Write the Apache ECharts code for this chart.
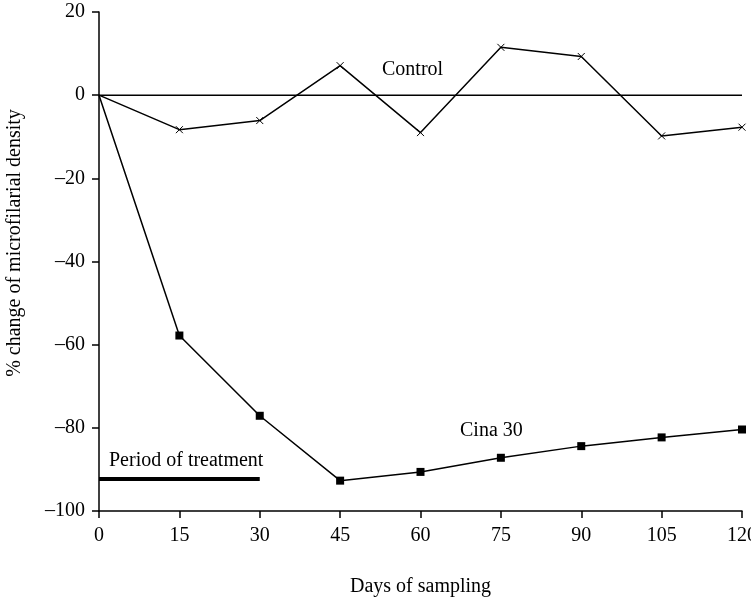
<!DOCTYPE html>
<html><head><meta charset="utf-8">
<script src="https://cdn.jsdelivr.net/npm/echarts@6/dist/echarts.min.js"></script>
<style>html,body{margin:0;padding:0;background:#fff}#c{width:751px;height:598px}</style>
</head><body><div id="c"></div>
<script>
const days = [0, 15, 30, 45, 60, 75, 90, 105, 120];
const control = [0, -8.3, -6.1, 7.1, -9.0, 11.5, 9.3, -9.8, -7.7];
const cina30 = [0, -57.8, -77.1, -92.7, -90.6, -87.2, -84.4, -82.3, -80.4];
const zeroLine = [[0, 0], [120, 0]];
const treatmentBar = [[0, -92.3], [30, -92.3]];
const F = 'Liberation Serif';
const pts = (vals) => days.map((d, i) => i === 0 ? {value: [d, vals[i]], symbol: 'none'} : [d, vals[i]]);
const chart = echarts.init(document.getElementById('c'));
chart.setOption({
  animation: false,
  grid: {left: 99, right: 9, top: 12, bottom: 87, outerBoundsMode: 'none', containLabel: false},
  xAxis: {
    type: 'value', min: 0, max: 120, interval: 15,
    name: 'Days of sampling', nameLocation: 'middle', nameGap: 66,
    nameTextStyle: {fontFamily: F, fontSize: 20, color: '#000'},
    axisLine: {onZero: false, lineStyle: {color: '#000', width: 1.5}},
    axisTick: {length: 7, lineStyle: {color: '#000', width: 1.5}},
    axisLabel: {fontFamily: F, fontSize: 20, color: '#000', margin: 15},
    splitLine: {show: false}
  },
  yAxis: {
    type: 'value', min: -100, max: 20, interval: 20,
    axisLine: {onZero: false, lineStyle: {color: '#000', width: 1.5}},
    axisTick: {length: 7, lineStyle: {color: '#000', width: 1.5}},
    axisLabel: {fontFamily: F, fontSize: 20, color: '#000', margin: 14,
      formatter: v => v < 0 ? '\u2013' + Math.abs(v) : String(v)},
    splitLine: {show: false}
  },
  series: [
    {type: 'line', data: zeroLine, symbol: 'none', lineStyle: {color: '#000', width: 1.5}, silent: true},
    {type: 'line', data: pts(control),
     symbol: 'path://M0,0L10,10M10,0L0,10', symbolSize: 7, showSymbol: true,
     itemStyle: {color: 'none', borderColor: '#000', borderWidth: 1},
     lineStyle: {color: '#000', width: 1.5}},
    {type: 'line', data: pts(cina30),
     symbol: 'rect', symbolSize: 8, itemStyle: {color: '#000'},
     lineStyle: {color: '#000', width: 1.5}},
    {type: 'line', data: treatmentBar, symbol: 'none', lineStyle: {color: '#000', width: 4}, silent: true}
  ],
  graphic: [
    {type: 'text', x: 15, y: 243, rotation: Math.PI / 2,
     style: {text: '% change of microfilarial density', font: '20px "Liberation Serif"', fill: '#000', align: 'center', verticalAlign: 'middle'}},
    {type: 'text', x: 382, y: 70, style: {text: 'Control', font: '20px "Liberation Serif"', fill: '#000', verticalAlign: 'middle'}},
    {type: 'text', x: 460, y: 431, style: {text: 'Cina 30', font: '20px "Liberation Serif"', fill: '#000', verticalAlign: 'middle'}},
    {type: 'text', x: 109, y: 461, style: {text: 'Period of treatment', font: '20px "Liberation Serif"', fill: '#000', verticalAlign: 'middle'}}
  ]
});
</script></body></html>
